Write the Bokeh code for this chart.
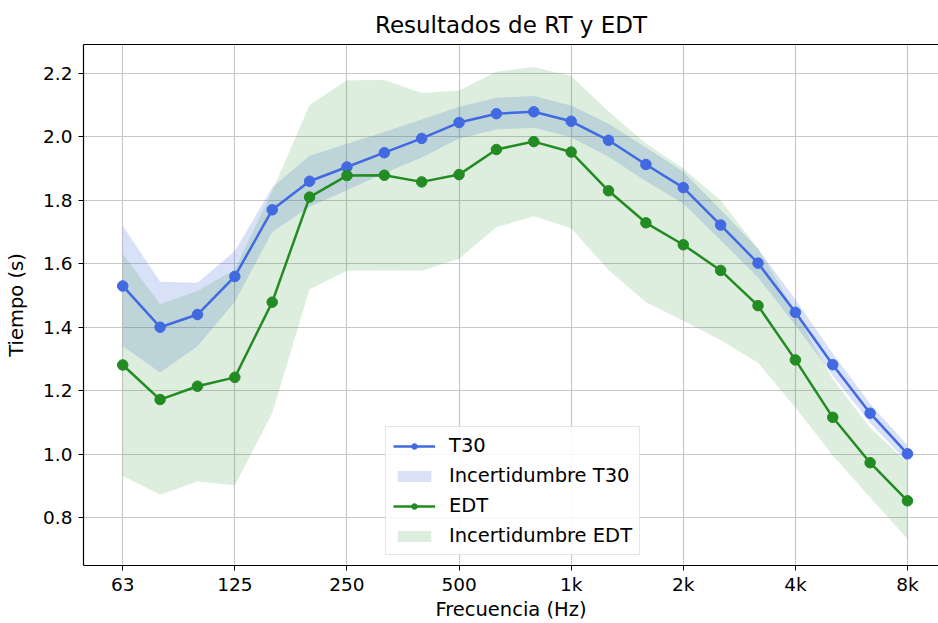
from bokeh.plotting import figure
from bokeh.models import (FixedTicker, NumeralTickFormatter, Legend, LegendItem,
                          LinearAxis, Range1d, ColumnDataSource)
from bokeh.embed import file_html
from bokeh.resources import INLINE

# Third-octave band centre frequencies
bands = ["63", "80", "100", "125", "160", "200", "250", "315", "400", "500", "630",
         "800", "1k", "1.25k", "1.6k", "2k", "2.5k", "3.15k", "4k", "5k", "6.3k", "8k"]
octave_labels = ["63", "125", "250", "500", "1k", "2k", "4k", "8k"]

# Reverberation time T30 (s) and its uncertainty
t30 = [1.53, 1.40, 1.44, 1.56, 1.77, 1.86, 1.905, 1.95, 1.995, 2.045, 2.073,
       2.079, 2.049, 1.989, 1.913, 1.840, 1.722, 1.602, 1.447, 1.282, 1.129, 1.001]
t30_unc = [0.19, 0.143, 0.10, 0.08, 0.07, 0.08, 0.073, 0.065, 0.06, 0.05, 0.05,
           0.05, 0.05, 0.052, 0.053, 0.05, 0.048, 0.045, 0.04, 0.035, 0.03, 0.027]

# Early decay time EDT (s) and its uncertainty
edt = [1.281, 1.172, 1.214, 1.242, 1.479, 1.810, 1.878, 1.879, 1.858, 1.881, 1.960,
       1.985, 1.952, 1.830, 1.729, 1.660, 1.579, 1.468, 1.297, 1.116, 0.973, 0.853]
edt_unc = [0.35, 0.30, 0.30, 0.34, 0.35, 0.29, 0.30, 0.30, 0.28, 0.265, 0.245,
           0.235, 0.24, 0.25, 0.25, 0.24, 0.22, 0.18, 0.15, 0.12, 0.11, 0.12]

x = list(range(len(bands)))
src = ColumnDataSource(dict(
    x=x, t30=t30, edt=edt,
    t30_lo=[v - u for v, u in zip(t30, t30_unc)],
    t30_hi=[v + u for v, u in zip(t30, t30_unc)],
    edt_lo=[v - u for v, u in zip(edt, edt_unc)],
    edt_hi=[v + u for v, u in zip(edt, edt_unc)],
))

FONT = "DejaVu Sans"
BLUE = "#4169E1"
GREEN = "#228B22"

p = figure(width=938, height=623, output_backend="svg", toolbar_location=None,
           x_range=Range1d(-1.05, 21.83), y_range=Range1d(0.649, 2.291),
           min_border_left=83, min_border_right=0, min_border_top=44,
           min_border_bottom=58, title="Resultados de RT y EDT")
p.outline_line_color = None
p.background_fill_color = "white"
p.border_fill_color = "white"

p.title.text_font = FONT
p.title.text_font_size = "23px"
p.title.text_font_style = "normal"
p.title.align = "center"
p.title.text_color = "black"
p.title.standoff = 2

# Uncertainty bands
r_t30_band = p.varea(x="x", y1="t30_lo", y2="t30_hi", source=src,
                     fill_color=BLUE, fill_alpha=0.2)
r_edt_band = p.varea(x="x", y1="edt_lo", y2="edt_hi", source=src,
                     fill_color=GREEN, fill_alpha=0.15)

# Measured curves
r_t30_line = p.line(x="x", y="t30", source=src, line_color=BLUE, line_width=2.5)
r_t30_pts = p.scatter(x="x", y="t30", source=src, size=10.5, fill_color=BLUE,
                      line_color=BLUE)
r_edt_line = p.line(x="x", y="edt", source=src, line_color=GREEN, line_width=2.5)
r_edt_pts = p.scatter(x="x", y="edt", source=src, size=10.5, fill_color=GREEN,
                      line_color=GREEN)

# Axes
xticks = [bands.index(lbl) for lbl in octave_labels]
p.xaxis.ticker = FixedTicker(ticks=xticks)
p.xaxis.major_label_overrides = {i: bands[i] for i in xticks}
p.yaxis.ticker = FixedTicker(ticks=[0.8, 1.0, 1.2, 1.4, 1.6, 1.8, 2.0, 2.2])
p.yaxis.formatter = NumeralTickFormatter(format="0.0")
p.xaxis.axis_label = "Frecuencia (Hz)"
p.yaxis.axis_label = "Tiempo (s)"

for ax in (p.xaxis[0], p.yaxis[0]):
    ax.axis_line_color = "black"
    ax.axis_line_width = 1.2
    ax.major_tick_line_color = "black"
    ax.major_tick_out = 5
    ax.major_tick_in = 0
    ax.minor_tick_line_color = None
    ax.major_label_text_font = FONT
    ax.major_label_text_font_size = "18.5px"
    ax.major_label_text_color = "black"
    ax.axis_label_text_font = FONT
    ax.axis_label_text_font_size = "19.5px"
    ax.axis_label_text_font_style = "normal"
    ax.axis_label_text_color = "black"
p.xaxis.major_label_standoff = 3
p.xaxis.axis_label_standoff = 0
p.yaxis.major_label_standoff = 6
p.yaxis.axis_label_standoff = 12

# Top border of the plotting area
top = LinearAxis(major_tick_line_color=None, minor_tick_line_color=None,
                 major_label_text_font_size="0px", axis_line_color="black",
                 axis_line_width=1.2, major_label_standoff=0)
p.add_layout(top, "above")

p.xgrid.grid_line_color = "#c8c8c8"
p.ygrid.grid_line_color = "#c8c8c8"
p.xgrid.grid_line_width = 1.2
p.ygrid.grid_line_width = 1.2

legend = Legend(items=[
    LegendItem(label="T30", renderers=[r_t30_line, r_t30_pts]),
    LegendItem(label="Incertidumbre T30", renderers=[r_t30_band]),
    LegendItem(label="EDT", renderers=[r_edt_line, r_edt_pts]),
    LegendItem(label="Incertidumbre EDT", renderers=[r_edt_band]),
], location=(302, 10))
legend.label_text_font = FONT
legend.label_text_font_size = "19.5px"
legend.label_text_color = "black"
legend.glyph_width = 42
legend.glyph_height = 14
legend.label_height = 22
legend.spacing = 7
legend.padding = 7
legend.label_standoff = 14
legend.border_line_color = "#cccccc"
legend.border_line_width = 1
legend.background_fill_alpha = 0.85
p.add_layout(legend, "center")

open("out.html", "w").write(file_html(p, INLINE))
